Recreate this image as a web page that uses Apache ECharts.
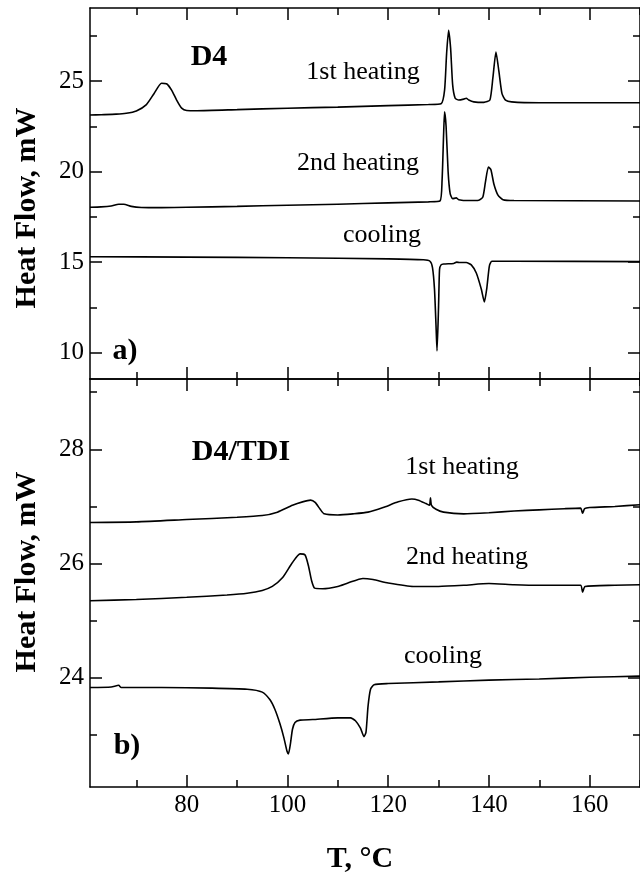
<!DOCTYPE html>
<html>
<head>
<meta charset="utf-8">
<script src="https://cdn.jsdelivr.net/npm/echarts@6/dist/echarts.min.js"></script>
<style>
  html, body { margin: 0; padding: 0; background: #fff; }
  #chart { width: 640px; height: 874px; }
</style>
</head>
<body>
<div id="chart"></div>
<script>
// temperature axis
const xMin = 60.8, xMax = 170;
const xMajor = [80, 100, 120, 140, 160];
const xMinor = [70, 90, 110, 130, 150, 170];

// panel a) D4
const yA = [8.55, 29.03];
const yAMajor = [10, 15, 20, 25];
const yAMinor = [12.5, 17.5, 22.5, 27.5];
// panel b) D4/TDI
const yB = [22.09, 29.23];
const yBMajor = [24, 26, 28];
const yBMinor = [23, 25, 27, 29];

// D4 curves [T, mW]
const d4Heat1 = [
  [60.8, 23.12], [63, 23.14], [66, 23.17], [68, 23.22], [70, 23.35], [72, 23.7], [73.5, 24.3],
  [75, 24.88], [76, 24.85], [77, 24.5], [78, 23.95], [79, 23.5], [80, 23.37], [82, 23.36],
  [90, 23.42], [100, 23.5], [110, 23.56], [120, 23.64], [128, 23.7], [130.5, 23.74],
  [131.2, 24.5], [131.6, 26.5], [132.0, 27.8], [132.4, 26.8], [132.8, 24.8], [133.3, 24.05],
  [134, 23.95], [135, 24.0], [135.5, 24.05], [136, 23.95], [137, 23.85], [139, 23.82],
  [140.2, 23.95], [140.8, 25.2], [141.4, 26.6], [142, 25.5], [142.6, 24.3], [143.3, 23.95],
  [144.5, 23.85], [150, 23.8], [160, 23.8], [170, 23.8]
];
const d4Heat2 = [
  [60.8, 18.03], [63, 18.05], [65, 18.1], [66.5, 18.2], [67.5, 18.2], [69, 18.08], [71, 18.02],
  [75, 18.01], [80, 18.03], [90, 18.08], [100, 18.14], [110, 18.2], [120, 18.27], [128, 18.33],
  [130.3, 18.38], [130.7, 19.5], [131.0, 22], [131.2, 23.3], [131.5, 22.5], [131.9, 20.0],
  [132.3, 18.8], [132.8, 18.5], [133.5, 18.55], [134, 18.45], [136, 18.4], [138, 18.42],
  [138.8, 18.6], [139.3, 19.4], [139.9, 20.25], [140.4, 20.1], [141, 19.3], [141.8, 18.7],
  [142.8, 18.45], [145, 18.4], [170, 18.38]
];
const d4Cool = [
  [60.8, 15.3], [80, 15.28], [100, 15.24], [120, 15.18], [127, 15.13], [128.3, 15.05],
  [128.8, 14.7], [129.2, 13.5], [129.5, 11.5], [129.7, 10.1], [130.0, 12.5], [130.2, 14.6],
  [130.5, 14.85], [131, 14.9], [133, 14.93], [133.6, 15.0], [134.2, 14.98], [135.5, 14.98],
  [136.5, 14.85], [137.5, 14.4], [138.5, 13.5], [139.1, 12.8], [139.6, 13.6], [140.1, 14.8],
  [140.6, 15.05], [145, 15.05], [170, 15.03]
];

// D4/TDI curves [T, mW]
const tdiHeat1 = [
  [60.8, 26.72], [70, 26.73], [80, 26.77], [90, 26.81], [95, 26.84], [98, 26.9], [101, 27.02],
  [103, 27.08], [104.6, 27.11], [105.5, 27.07], [106.5, 26.95], [107.3, 26.87], [110, 26.85],
  [113, 26.87], [116, 26.9], [119, 26.98], [122, 27.08], [124.7, 27.13], [126, 27.11],
  [127.5, 27.05], [128.2, 27.02], [128.4, 27.15], [128.6, 27.02], [129.5, 26.95], [131, 26.9],
  [135, 26.87], [140, 26.89], [145, 26.92], [150, 26.94], [155, 26.96], [158.2, 26.97],
  [158.6, 26.88], [159, 26.96], [160, 26.98], [165, 27.0], [170, 27.03]
];
const tdiHeat2 = [
  [60.8, 25.35], [70, 25.37], [80, 25.41], [88, 25.45], [92, 25.48], [95, 25.53], [97, 25.6],
  [99, 25.75], [101, 26.02], [102.5, 26.17], [103.5, 26.15], [104.2, 25.95], [104.8, 25.7],
  [105.4, 25.57], [107, 25.56], [110, 25.6], [112, 25.66], [115, 25.74], [117, 25.72],
  [120, 25.66], [125, 25.6], [130, 25.6], [135, 25.62], [140, 25.65], [145, 25.63],
  [150, 25.62], [158.2, 25.62], [158.6, 25.5], [159.1, 25.6], [165, 25.62], [170, 25.63]
];
const tdiCool = [
  [60.8, 23.83], [65, 23.84], [66.5, 23.87], [67, 23.83], [75, 23.83], [85, 23.82], [92, 23.8],
  [95, 23.75], [96.5, 23.62], [97.5, 23.45], [98.5, 23.2], [99.3, 22.95], [99.9, 22.72],
  [100.2, 22.67], [100.6, 22.85], [101.0, 23.1], [101.5, 23.22], [102.5, 23.26], [105, 23.27],
  [110, 23.3], [112.5, 23.3], [113.5, 23.25], [114.5, 23.12], [115.2, 22.97], [115.6, 23.05],
  [116, 23.5], [116.5, 23.8], [117.2, 23.88], [120, 23.9], [130, 23.93], [140, 23.96],
  [150, 23.98], [160, 24.01], [170, 24.03]
];

const serif = '"Liberation Serif", "Times New Roman", serif';
const lineStyle = { color: '#000', width: 1.5 };

// one axis per side and tick kind: major ticks long, minor short, all pointing inward
function xAx(grid, pos, ticks, len, withLine, labels) {
  return {
    type: 'value', gridIndex: grid, position: pos, min: xMin, max: xMax,
    axisLine: { show: withLine, lineStyle: lineStyle },
    axisTick: { show: true, inside: true, length: len, customValues: ticks, lineStyle: lineStyle },
    axisLabel: labels
      ? { show: true, customValues: xMajor, margin: 6, color: '#000', fontFamily: serif, fontSize: 25 }
      : { show: false },
    splitLine: { show: false }
  };
}
function yAx(grid, pos, ext, ticks, len, withLine, labels) {
  return {
    type: 'value', gridIndex: grid, position: pos, min: ext[0], max: ext[1],
    axisLine: { show: withLine, lineStyle: lineStyle },
    axisTick: { show: true, inside: true, length: len, customValues: ticks, lineStyle: lineStyle },
    axisLabel: labels
      ? { show: true, customValues: labels, margin: 6, color: '#000', fontFamily: serif, fontSize: 25 }
      : { show: false },
    splitLine: { show: false }
  };
}

const xAxes = [
  xAx(0, 'bottom', xMajor, 12, true, false),  // 0
  xAx(0, 'bottom', xMinor, 7, false, false),
  xAx(0, 'top', xMajor, 12, true, false),
  xAx(0, 'top', xMinor, 7, false, false),
  xAx(1, 'bottom', xMajor, 12, true, true),   // 4
  xAx(1, 'bottom', xMinor, 7, false, false),
  xAx(1, 'top', xMajor, 12, true, false),
  xAx(1, 'top', xMinor, 7, false, false)
];
const yAxes = [
  yAx(0, 'left', yA, yAMajor, 12, true, yAMajor),  // 0
  yAx(0, 'left', yA, yAMinor, 7, false, null),
  yAx(0, 'right', yA, yAMajor, 12, true, null),
  yAx(0, 'right', yA, yAMinor, 7, false, null),
  yAx(1, 'left', yB, yBMajor, 12, true, yBMajor),  // 4
  yAx(1, 'left', yB, yBMinor, 7, false, null),
  yAx(1, 'right', yB, yBMajor, 12, true, null),
  yAx(1, 'right', yB, yBMinor, 7, false, null)
];

function curve(name, data, xi, yi) {
  return {
    name: name, type: 'line', data: data, xAxisIndex: xi, yAxisIndex: yi,
    showSymbol: false, smooth: 0.2, lineStyle: { color: '#000', width: 1.6 },
    silent: true, animation: false
  };
}

function txt(x, y, text, size, bold, rot) {
  return {
    type: 'text', x: x, y: y, rotation: rot || 0,
    style: {
      text: text, fill: '#000', align: 'center', verticalAlign: 'middle',
      font: (bold ? 'bold ' : '') + size + 'px ' + serif
    }
  };
}

const chart = echarts.init(document.getElementById('chart'), null, { renderer: 'canvas' });
chart.setOption({
  backgroundColor: '#fff',
  animation: false,
  grid: [
    { left: 90, top: 8, width: 558, height: 371 },
    { left: 90, top: 379, width: 558, height: 408 }
  ],
  xAxis: xAxes,
  yAxis: yAxes,
  series: [
    curve('D4 1st heating', d4Heat1, 0, 0),
    curve('D4 2nd heating', d4Heat2, 0, 0),
    curve('D4 cooling', d4Cool, 0, 0),
    curve('D4/TDI 1st heating', tdiHeat1, 4, 4),
    curve('D4/TDI 2nd heating', tdiHeat2, 4, 4),
    curve('D4/TDI cooling', tdiCool, 4, 4)
  ],
  graphic: [
    txt(27, 208, 'Heat Flow, mW', 30, true, Math.PI / 2),
    txt(27, 572, 'Heat Flow, mW', 30, true, Math.PI / 2),
    txt(360, 859, 'T, °C', 30, true),
    txt(209, 57, 'D4', 30, true),
    txt(241, 452, 'D4/TDI', 30, true),
    txt(125, 351, 'a)', 30, true),
    txt(127, 746, 'b)', 30, true),
    txt(363, 72, '1st heating', 26, false),
    txt(358, 163, '2nd heating', 26, false),
    txt(382, 235, 'cooling', 26, false),
    txt(462, 467, '1st heating', 26, false),
    txt(467, 557, '2nd heating', 26, false),
    txt(443, 656, 'cooling', 26, false)
  ]
});
</script>
</body>
</html>
